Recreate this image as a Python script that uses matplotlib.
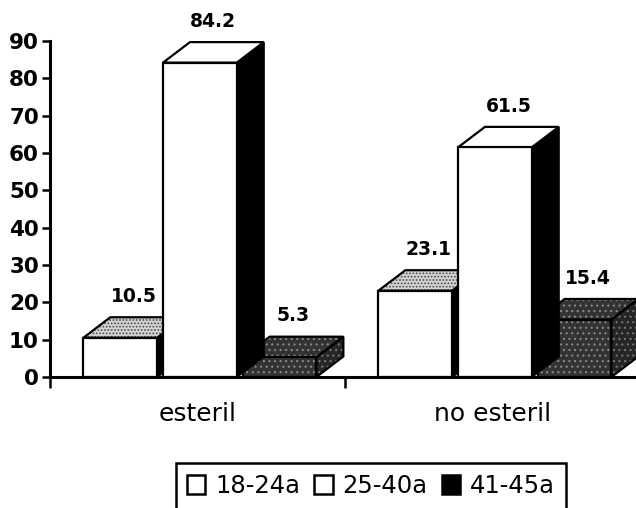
import matplotlib
matplotlib.use("Agg")
import matplotlib.pyplot as plt
from matplotlib.patches import Polygon, Patch

# Data
categories = ["esteril", "no esteril"]
series_names = ["18-24a", "25-40a", "41-45a"]
values = {
    "18-24a": [10.5, 23.1],
    "25-40a": [84.2, 61.5],
    "41-45a": [5.3, 15.4],
}
y_ticks = [0, 10, 20, 30, 40, 50, 60, 70, 80, 90]

# Face styles for each series: (front, top, side) -> (facecolor, hatch, hatchcolor)
face_styles = {
    "18-24a": {"front": ("white", None, None),
               "top": ("#d4d4d4", ".....", "#444444"),
               "side": ("black", None, None)},
    "25-40a": {"front": ("white", None, None),
               "top": ("white", None, None),
               "side": ("black", None, None)},
    "41-45a": {"front": ("#333333", "...", "#8a8a8a"),
               "top": ("#333333", "...", "#8a8a8a"),
               "side": ("#262626", "...", "#777777")},
}
legend_fill = {"18-24a": "white", "25-40a": "white", "41-45a": "black"}
series_z = {"18-24a": 2, "25-40a": 4, "41-45a": 3}

plt.rcParams["hatch.linewidth"] = 0.8

W, H, DPI = 636, 508, 100
fig = plt.figure(figsize=(W / DPI, H / DPI), dpi=DPI)
fig.patch.set_facecolor("white")

ax_left = 50 / W
ax_bottom = (H - 377) / H
ax_top = (H - 41) / H
ax = fig.add_axes([ax_left, ax_bottom, 590 / W, ax_top - ax_bottom])
ax.set_xlim(0, 2)
ax.set_ylim(0, 90)
ax.patch.set_alpha(0)

bar_w = 0.25
bar_step = 0.27
first_off = 0.113
depth_x = 0.0915   # oblique depth in x units
depth_y = 5.5      # oblique depth in y units
edge_lw = 1.6


def face(pts, style, z):
    fc, hatch, hc = style
    if hatch:
        ax.add_patch(Polygon(pts, closed=True, facecolor=fc, edgecolor=hc,
                             linewidth=0, hatch=hatch, zorder=z))
    else:
        ax.add_patch(Polygon(pts, closed=True, facecolor=fc, edgecolor="none",
                             linewidth=0, zorder=z))
    ax.add_patch(Polygon(pts, closed=True, fill=False, edgecolor="black",
                         linewidth=edge_lw, joinstyle="miter", zorder=z + 0.01))


for ci, cat in enumerate(categories):
    for si, name in enumerate(series_names):
        v = values[name][ci]
        x0 = ci + first_off + si * bar_step
        x1 = x0 + bar_w
        z = series_z[name]
        st = face_styles[name]
        side = [(x1, 0), (x1 + depth_x, depth_y), (x1 + depth_x, v + depth_y), (x1, v)]
        top = [(x0, v), (x1, v), (x1 + depth_x, v + depth_y), (x0 + depth_x, v + depth_y)]
        front = [(x0, 0), (x1, 0), (x1, v), (x0, v)]
        face(side, st["side"], z)
        face(top, st["top"], z + 0.1)
        face(front, st["front"], z + 0.2)
        ax.text((x0 + x1) / 2 + depth_x / 2, v + depth_y + 3.0, f"{v:.1f}",
                ha="center", va="bottom", fontsize=13.5, fontweight="bold",
                zorder=10)

# Axes styling
for s in ("top", "right"):
    ax.spines[s].set_visible(False)
ax.spines["left"].set_linewidth(2.2)
ax.spines["bottom"].set_linewidth(2.2)
ax.spines["left"].set_zorder(6)
ax.spines["bottom"].set_zorder(6)

ax.set_yticks(y_ticks)
ax.set_yticklabels([str(t) for t in y_ticks], fontsize=15.5, fontweight="bold")
ax.tick_params(axis="y", direction="out", length=6, width=1.8, pad=2)

ax.set_xticks([0, 1, 2])
ax.set_xticklabels([])
ax.tick_params(axis="x", which="major", direction="out", length=8, width=1.8)
ax.set_xticks([0.5, 1.5], minor=True)
ax.set_xticklabels(categories, minor=True, fontsize=18)
ax.tick_params(axis="x", which="minor", length=0, pad=18)

# Legend
handles = [Patch(facecolor=legend_fill[n], edgecolor="black", linewidth=1.8,
                 label=n) for n in series_names]
leg = fig.legend(handles=handles, loc="upper center", ncol=3,
                 bbox_to_anchor=(371 / W, 1 - 463 / H),
                 fontsize=17.5, frameon=True, fancybox=False,
                 edgecolor="black", framealpha=1,
                 handlelength=0.75, handleheight=0.85, handletextpad=0.4,
                 columnspacing=0.6, borderpad=0.45, borderaxespad=0)
leg.get_frame().set_linewidth(1.8)

fig.savefig("out.png", dpi=DPI, facecolor="white")
